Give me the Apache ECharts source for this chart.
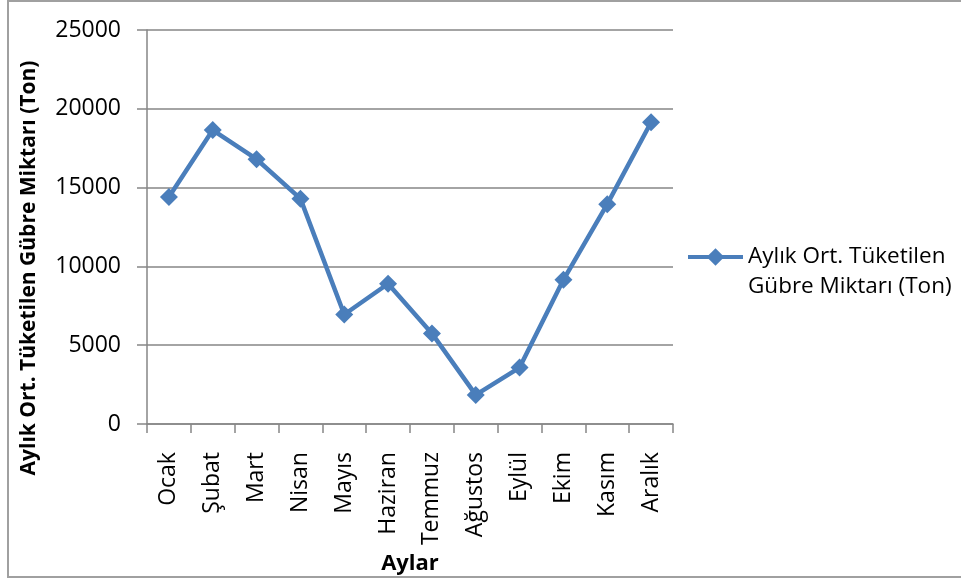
<!DOCTYPE html>
<html>
<head>
<meta charset="utf-8">
<style>
  html, body { margin: 0; padding: 0; background: #ffffff; }
  #chart { width: 961px; height: 580px; }
</style>
<script src="https://cdn.jsdelivr.net/npm/echarts@6/dist/echarts.min.js"></script>
</head>
<body>
<div id="chart"></div>
<script>
// Monthly average fertilizer consumption (tons)
const months = ['Ocak', 'Şubat', 'Mart', 'Nisan', 'Mayıs', 'Haziran', 'Temmuz', 'Ağustos', 'Eylül', 'Ekim', 'Kasım', 'Aralık'];
const consumption = [14400, 18650, 16800, 14300, 6950, 8900, 5750, 1850, 3580, 9150, 13950, 19150];
const seriesName = 'Aylık Ort. Tüketilen\nGübre Miktarı (Ton)';
const yTitle = 'Aylık Ort. Tüketilen Gübre Miktarı (Ton)';
const xTitle = 'Aylar';

const FONT = 'Open Sans';
const GRID_COLOR = '#868686';
const LINE_COLOR = '#4A7EBB';

const chart = echarts.init(document.getElementById('chart'), null, { renderer: 'canvas' });

chart.setOption({
  animation: false,
  backgroundColor: '#ffffff',
  textStyle: { fontFamily: FONT },
  grid: { left: 147, right: 288, top: 30, bottom: 150.5, containLabel: false },
  graphic: [
    {
      type: 'rect',
      shape: { x: 8, y: 1, width: 958, height: 576 },
      style: { fill: 'none', stroke: '#a0a0a0', lineWidth: 2 },
      silent: true
    },
    {
      type: 'text',
      x: 29, y: 268,
      rotation: Math.PI / 2,
      style: {
        text: yTitle,
        fontFamily: FONT,
        fontWeight: 'bold',
        fontSize: 21,
        fill: '#000000',
        align: 'center',
        verticalAlign: 'middle'
      },
      silent: true
    }
  ],
  legend: {
    left: 686,
    top: 212,
    padding: 0,
    orient: 'vertical',
    itemWidth: 55,
    itemHeight: 22,
    itemGap: 0,
    lineStyle: { width: 4 },
    textStyle: {
      fontFamily: FONT,
      fontSize: 22.5,
      color: '#000000',
      lineHeight: 30
    },
    // leading blank line keeps the icon level with the first text line
    formatter: (name) => ' \n' + name,
    data: [seriesName]
  },
  xAxis: {
    type: 'category',
    data: months,
    boundaryGap: true,
    name: xTitle,
    nameLocation: 'middle',
    nameGap: 119,
    nameTextStyle: { fontFamily: FONT, fontWeight: 'bold', fontSize: 22, color: '#000000' },
    axisLine: { show: true, lineStyle: { color: GRID_COLOR, width: 1.5 } },
    axisTick: { show: true, alignWithLabel: false, length: 9, lineStyle: { color: GRID_COLOR, width: 1.5 } },
    axisLabel: {
      rotate: 90,
      margin: 28,
      interval: 0,
      fontFamily: FONT,
      fontSize: 23,
      color: '#000000'
    },
    splitLine: { show: false }
  },
  yAxis: {
    type: 'value',
    min: 0,
    max: 25000,
    interval: 5000,
    axisLine: { show: true, lineStyle: { color: GRID_COLOR, width: 1.5 } },
    axisTick: { show: true, length: 10, lineStyle: { color: GRID_COLOR, width: 1.5 } },
    axisLabel: {
      margin: 26,
      fontFamily: FONT,
      fontSize: 23,
      color: '#000000',
      formatter: (v) => String(v)
    },
    splitLine: { show: true, lineStyle: { color: GRID_COLOR, width: 1.5 } }
  },
  series: [
    {
      name: seriesName,
      type: 'line',
      data: consumption,
      symbol: 'diamond',
      symbolSize: 18,
      lineStyle: { color: LINE_COLOR, width: 4.5 },
      itemStyle: { color: LINE_COLOR },
      emphasis: { disabled: true }
    }
  ]
});
</script>
</body>
</html>
